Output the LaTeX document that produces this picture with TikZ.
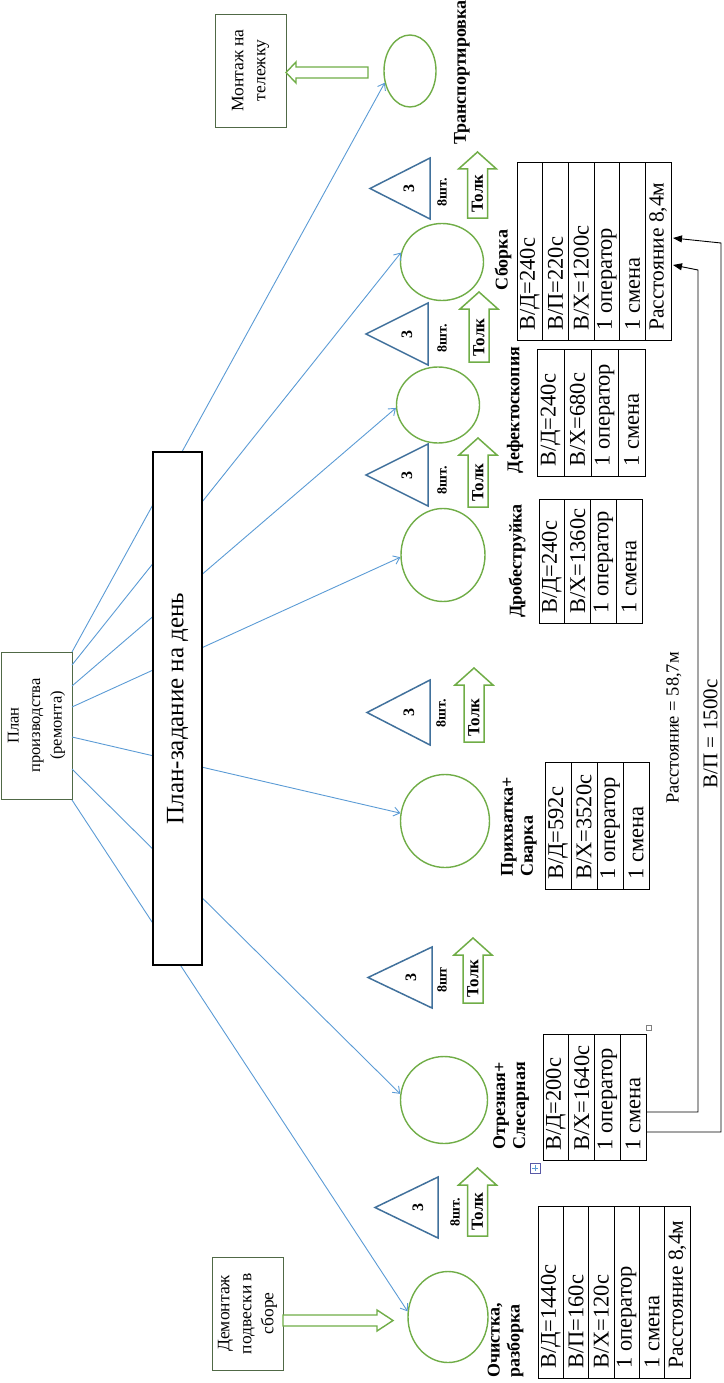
\documentclass[tikz,border=0pt]{standalone}
\usepackage{fontspec}
\setmainfont{Liberation Serif}
\usetikzlibrary{arrows.meta,shapes.geometric}
\definecolor{cgreen}{RGB}{112,173,71}
\definecolor{cblue}{RGB}{91,155,213}
\definecolor{tblue}{RGB}{65,113,156}
\definecolor{bgreen}{RGB}{80,105,70}
\tikzset{
 circ/.style={ellipse, draw=cgreen, line width=1.4pt, inner sep=0pt, fill=white},
 bl/.style={draw=cblue, line width=0.9pt, -{Straight Barb[length=6pt,width=9pt]}},
 tri/.style={draw=tblue, line width=1.5pt, fill=white, line join=miter},
 tolkst/.style={draw=cgreen, line width=1.5pt, fill=white},
 tolktxt/.style={rotate=90, anchor=west, inner sep=0pt, font=\bfseries\fontsize{17}{19}\selectfont},
 hollow/.style={draw=cgreen, line width=1.4pt, fill=white},
 tab/.style={draw=black, line width=0.9pt},
 tabtxt/.style={rotate=90, anchor=west, inner sep=0pt, font=\fontsize{22.5}{24}\selectfont},
 lbl/.style={rotate=90, inner sep=0pt, font=\bfseries\fontsize{18}{20}\selectfont, align=left},
 gbox/.style={draw=bgreen, line width=0.9pt, fill=white, rotate=90, align=center, inner sep=0pt, font=\fontsize{17.5}{22}\selectfont},
 threetxt/.style={rotate=90, inner sep=0pt, font=\bfseries\fontsize{16}{18}\selectfont},
 shttxt/.style={rotate=90, inner sep=0pt, font=\bfseries\fontsize{14}{16}\selectfont},
 blk/.style={draw=black, line width=0.9pt, -{Triangle[length=9pt,width=7pt]}},
 dist/.style={rotate=90, inner sep=0pt, font=\fontsize{18.5}{20}\selectfont},
}
\newcommand\rast{{\fontsize{21.5}{24}\selectfont Расстояние 8,4м}}
\newcommand\tri[4]{\draw[tri] (#1,#2) -- (#3,#2-#4) -- (#3,#2+#4) -- cycle;}
\newcommand\tolk[4]{%
 \draw[tolkst] (#2-10,#4) -- (#2-10,#3+17) -- (#2-19,#3+17) -- (#2,#3) -- (#2+19,#3+17) -- (#2+10,#3+17) -- (#2+10,#4) -- cycle;
 \node[tolktxt] (#1) at (#2,#4-5) {Толк};}
\newcommand\mktable[6]{%
 \foreach \t [count=\i] in {#6} {
   \draw[tab] ({#2+(\i-1)*#3},#4) rectangle ({#2+\i*#3},#5);
   \node[tabtxt] (#1-\i) at ({#2+(\i-0.5)*#3},#5-9) {\t};
 }}
\begin{document}
\begin{tikzpicture}[x=1pt,y=-1pt]
\useasboundingbox (0,0) rectangle (723,1383);

% circles
\node[circ, minimum width=52pt, minimum height=72pt] (c1) at (410,71) {};
\node[circ, minimum width=83pt, minimum height=77pt] (c2) at (442,262) {};
\node[circ, minimum width=83pt, minimum height=76pt] (c3) at (438,405) {};
\node[circ, minimum width=84pt, minimum height=93pt] (c4) at (443,555) {};
\node[circ, minimum width=89pt, minimum height=93pt] (c5) at (445,821) {};
\node[circ, minimum width=87pt, minimum height=87pt] (c6) at (444,1100) {};
\node[circ, minimum width=80pt, minimum height=91pt] (c7) at (448,1317) {};

% plan box
\node[gbox, minimum width=147pt, minimum height=71pt, font=\fontsize{16.5}{21.5}\selectfont] (plan) at (36.5,725.5) {План\\производства\\(ремонта)};
\coordinate (p1) at (72,652);
\coordinate (p2) at (72,665);
\coordinate (p3) at (72,686);
\coordinate (p4) at (72,707);
\coordinate (p5) at (72,737);
\coordinate (p6) at (72,769);
\coordinate (p7) at (72,800);

% blue lines
\draw[bl] (p1) -- (c1.205);
\draw[bl] (p2) -- (c2.167);
\draw[bl] (p3) -- (c3.184);
\draw[bl] (p4) -- (c4.183);
\draw[bl] (p5) -- (c5.170);
\draw[bl] (p6) -- (c6.172);
\draw[bl] (p7) -- (c7.172);

% big box
\node[draw=black, line width=2pt, fill=white, rotate=90, minimum width=513pt, minimum height=49pt, inner sep=0pt, font=\fontsize{25}{28}\selectfont] (zad) at (177.5,708.5) {План-задание на день};

% side boxes
\node[gbox, minimum width=113pt, minimum height=71pt] (mont) at (250.5,70.5) {Монтаж на\\тележку};
\node[gbox, minimum width=113pt, minimum height=71pt] (demont) at (247.5,1313.5) {Демонтаж\\подвески в\\сборе};

% hollow arrows
\draw[hollow] (368,67) -- (296,67) -- (296,62) -- (286,72.5) -- (296,83) -- (296,78) -- (368,78) -- cycle;
\draw[hollow] (283,1315) -- (377,1315) -- (377,1310) -- (393,1320.5) -- (377,1331) -- (377,1326) -- (283,1326) -- cycle;

% triangles
\tri{370}{188.5}{430}{30.5}
\tri{366}{334}{428}{31}
\tri{366}{475}{428}{31}
\tri{367}{712.5}{430}{32.5}
\tri{368}{977.5}{432}{30.5}
\tri{375}{1207.5}{438}{30.5}
\node[threetxt] (n1) at (409,188.5) {3};
\node[threetxt] (n2) at (407,334) {3};
\node[threetxt] (n3) at (407,475) {3};
\node[threetxt] (n4) at (409,712.5) {3};
\node[threetxt] (n5) at (411,977.5) {3};
\node[threetxt] (n6) at (418,1207.5) {3};
\node[shttxt] (s1) at (442,192) {8шт.};
\node[shttxt] (s2) at (442,338) {8шт.};
\node[shttxt] (s3) at (442,480) {8шт.};
\node[shttxt] (s4) at (441,713) {8шт.};
\node[shttxt] (s5) at (442,980) {8шт};
\node[shttxt] (s6) at (455,1212) {8шт.};

% Tolk arrows
\tolk{a1}{477.5}{152}{218}
\tolk{a2}{479}{292}{362}
\tolk{a3}{478}{438}{507}
\tolk{a4}{474}{668}{742}
\tolk{a5}{473}{938}{1003}
\tolk{a6}{477.5}{1168}{1236}

% labels
\node[lbl, anchor=west] (l1) at (462,145) {Транспортировка};
\node[lbl] (l2) at (503,260) {Сборка};
\node[lbl] (l3) at (515,410) {Дефектоскопия};
\node[lbl] (l4) at (517,561) {Дробеструйка};
\node[lbl, anchor=west] (l5) at (519,877) {Прихватка+\\Сварка};
\node[lbl, anchor=west] (l6) at (511,1150) {Отрезная+\\Слесарная};
\node[lbl, anchor=west] (l7) at (505.5,1378) {Очистка,\\разборка};

% tables
\mktable{tsb}{517}{25.67}{162}{340}{В/Д=240с, В/П=220с, В/Х=1200с, 1 оператор, 1 смена, \rast}
\mktable{tdf}{537}{27}{349}{476}{В/Д=240с, В/Х=680с, 1 оператор, 1 смена}
\mktable{tdr}{539}{25.75}{499}{623}{В/Д=240с, В/Х=1360с, 1 оператор, 1 смена}
\mktable{tpr}{545}{26}{762}{889}{В/Д=592с, В/Х=3520с, 1 оператор, 1 смена}
\mktable{tot}{543}{25.75}{1034}{1160}{В/Д=200с, В/Х=1640с, 1 оператор, 1 смена}
\mktable{toc}{538}{25.33}{1206}{1378}{В/Д=1440с, В/П=160с, В/Х=120с, 1 оператор, 1 смена, \rast}

% artifacts
\draw[gray, line width=0.5pt, fill=white] (646.5,1025.5) rectangle (651.5,1030.5);
\draw[gray!70!blue, line width=0.5pt, fill=white] (530,1163) rectangle (540,1173);
\draw[cblue, line width=0.6pt] (532,1168) -- (538,1168) (535,1165) -- (535,1171);

% black distance arrows
\coordinate (o1) at (646,1112);
\coordinate (o2) at (646,1132);
\coordinate (e1) at (673,265);
\coordinate (e2) at (673,238);
\draw[blk] (o1) -- (698,1112) -- (698,270) -- (e1);
\draw[blk] (o2) -- (721,1132) -- (721,243) -- (e2);
\node[dist] (d1) at (674,728) {Расстояние = 58,7м};
\node[dist, font=\fontsize{21}{23}\selectfont] (d2) at (710.5,734) {В/П = 1500с};
\end{tikzpicture}
\end{document}
